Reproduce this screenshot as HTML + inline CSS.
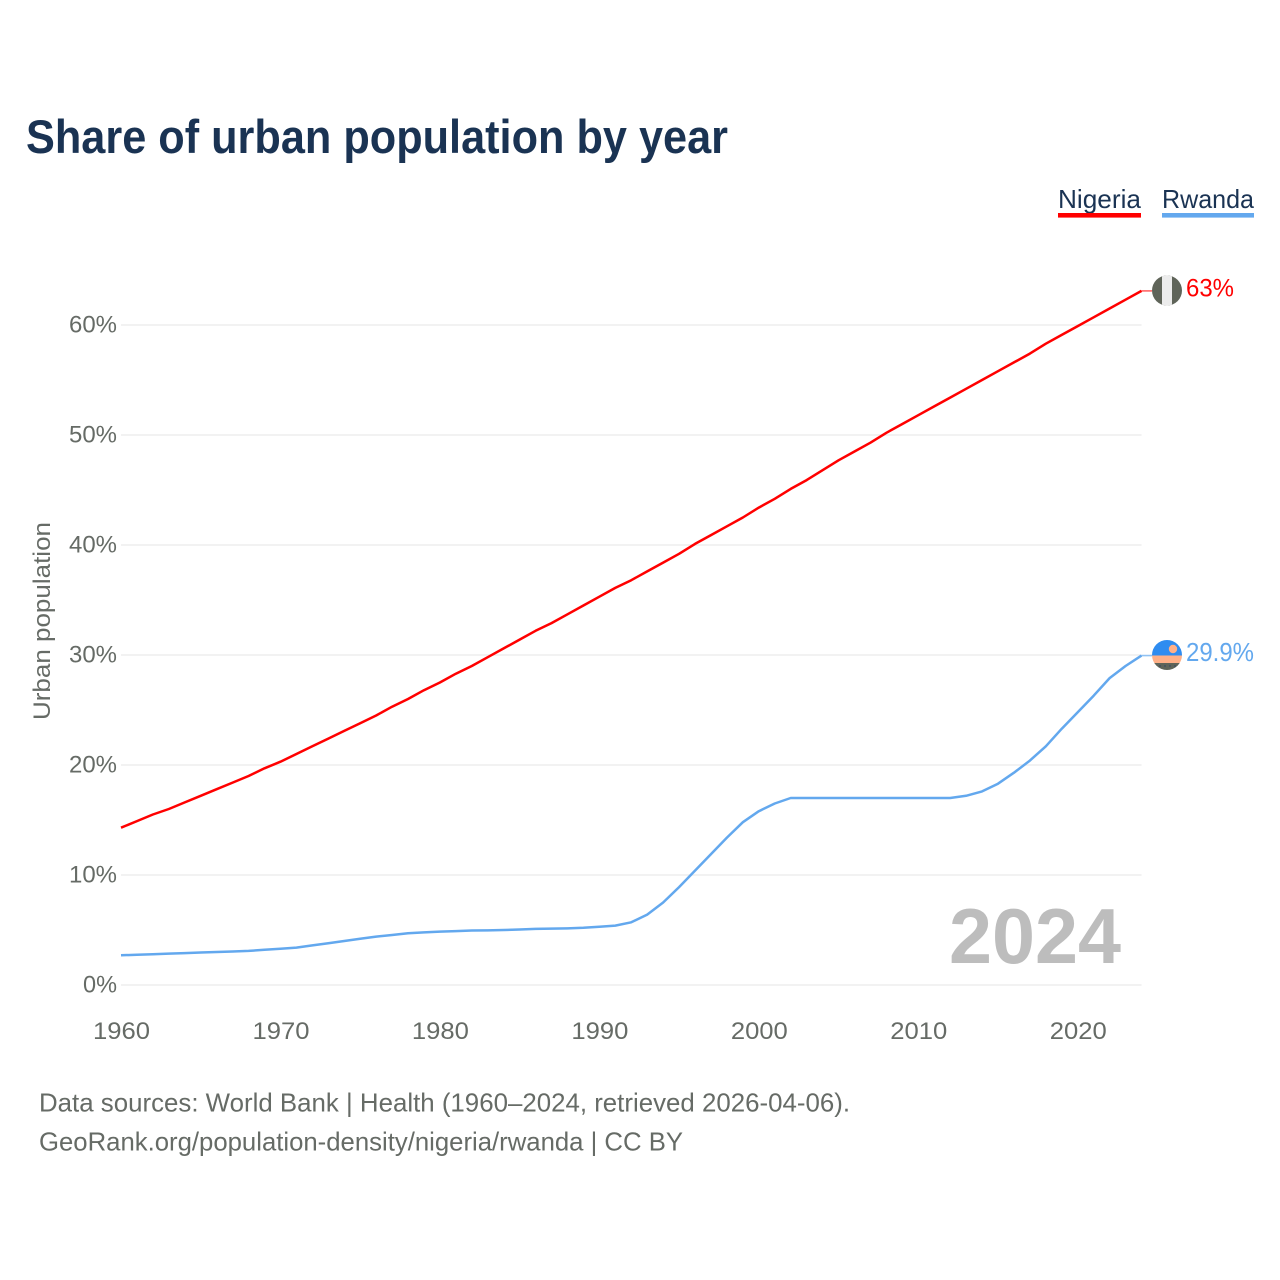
<!DOCTYPE html>
<html lang="en">
<head>
<meta charset="utf-8">
<title>Share of urban population by year</title>
<style>
html,body{margin:0;padding:0;background:#fff;}
svg{display:block;}
text{font-family:"Liberation Sans",sans-serif;}
</style>
</head>
<body>
<svg id="chart" xmlns="http://www.w3.org/2000/svg" width="1280" height="1280" viewBox="0 0 1280 1280">
  <defs>
    <clipPath id="flag-clip-ng"><circle cx="1167" cy="290.5" r="15"/></clipPath>
    <clipPath id="flag-clip-rw"><circle cx="1167" cy="655" r="15"/></clipPath>
  </defs>
  <rect width="1280" height="1280" fill="#ffffff"/>
  <text x="26" y="153" font-size="47" font-weight="700" fill="#1a3353" textLength="702" lengthAdjust="spacingAndGlyphs">Share of urban population by year</text>

  <g>
    <g>
      <text x="1058" y="208" font-size="26" fill="#1a3353" textLength="83" lengthAdjust="spacingAndGlyphs">Nigeria</text>
      <rect x="1058" y="213" width="83" height="4.6" fill="#ff0000"/>
    </g>
    <g>
      <text x="1162" y="208" font-size="26" fill="#1a3353" textLength="92" lengthAdjust="spacingAndGlyphs">Rwanda</text>
      <rect x="1162" y="213" width="92" height="4.6" fill="#63a8ee"/>
    </g>
  </g>

  <g id="grid"></g>
  <g id="y-ticks"></g>
  <g id="x-ticks"></g>
  <text transform="translate(50 720) rotate(-90)" font-size="24" fill="#666b66" textLength="198" lengthAdjust="spacingAndGlyphs">Urban population</text>

  <text x="949" y="963" font-size="78" font-weight="700" fill="#bdbdbd" textLength="172" lengthAdjust="spacingAndGlyphs">2024</text>

  <g id="series"></g>

  <g clip-path="url(#flag-clip-ng)">
    <rect x="1152" y="275" width="30" height="31" fill="#5f6459"/>
    <rect x="1162" y="275" width="10" height="31" fill="#ececec"/>
  </g>
  <g clip-path="url(#flag-clip-rw)">
    <rect x="1152" y="640" width="30" height="15.5" fill="#2f8cf0"/>
    <rect x="1152" y="655.5" width="30" height="7.5" fill="#ffb088"/>
    <rect x="1152" y="663" width="30" height="7" fill="#5f6459"/>
    <circle cx="1173" cy="649" r="4.2" fill="#ffb088"/>
    <circle cx="1160" cy="666" r="0.7" fill="#2b3f66"/>
    <circle cx="1165" cy="666" r="0.7" fill="#2b3f66"/>
    <circle cx="1170" cy="666" r="0.7" fill="#2b3f66"/>
    <circle cx="1175" cy="666" r="0.7" fill="#2b3f66"/>
  </g>
  <text id="end-label-nigeria" x="1186" y="296.5" font-size="25" fill="#ff0000" textLength="48" lengthAdjust="spacingAndGlyphs"></text>
  <text id="end-label-rwanda" x="1186" y="661" font-size="26" fill="#63a8ee" textLength="68" lengthAdjust="spacingAndGlyphs"></text>

  <text x="39" y="1111.5" font-size="26" fill="#666b66" textLength="811" lengthAdjust="spacingAndGlyphs">Data sources: World Bank | Health (1960–2024, retrieved 2026-04-06).</text>
  <text x="39" y="1150.5" font-size="26" fill="#666b66" textLength="644" lengthAdjust="spacingAndGlyphs">GeoRank.org/population-density/nigeria/rwanda | CC BY</text>
</svg>
<script>
var firstYear = 1960;
var xTickYears = [1960, 1970, 1980, 1990, 2000, 2010, 2020];
var yTickValues = [0, 10, 20, 30, 40, 50, 60];
var nigeriaValues = [14.3,14.9,15.5,16.0,16.6,17.2,17.8,18.4,19.0,19.7,20.3,21.0,21.7,22.4,23.1,23.8,24.5,25.3,26.0,26.8,27.5,28.3,29.0,29.8,30.6,31.4,32.2,32.9,33.7,34.5,35.3,36.1,36.8,37.6,38.4,39.2,40.1,40.9,41.7,42.5,43.4,44.2,45.1,45.9,46.8,47.7,48.5,49.3,50.2,51.0,51.8,52.6,53.4,54.2,55.0,55.8,56.6,57.4,58.3,59.1,59.9,60.7,61.5,62.3,63.1];
var rwandaValues = [2.7,2.75,2.8,2.85,2.9,2.95,3.0,3.05,3.1,3.2,3.3,3.4,3.6,3.8,4.0,4.2,4.4,4.55,4.7,4.78,4.85,4.9,4.95,4.97,5.0,5.05,5.1,5.12,5.15,5.2,5.3,5.4,5.7,6.4,7.5,8.9,10.4,11.9,13.4,14.8,15.8,16.5,17.0,17.0,17.0,17.0,17.0,17.0,17.0,17.0,17.0,17.0,17.0,17.2,17.6,18.3,19.3,20.4,21.7,23.3,24.8,26.3,27.9,29.0,29.95];
var nigeriaEndLabel = "63%";
var rwandaEndLabel = "29.9%";

var SVG_NS = "http://www.w3.org/2000/svg";
function xScale(year) { return 121 + (year - 1960) * (1141.5 - 121) / 64; }
function yScale(value) { return 985 - value * 11; }
function yearOf(index) { return firstYear + index; }

var gridGroup = document.getElementById("grid");
var yTickGroup = document.getElementById("y-ticks");
var xTickGroup = document.getElementById("x-ticks");
var seriesGroup = document.getElementById("series");

yTickValues.forEach(function (value) {
  var line = document.createElementNS(SVG_NS, "line");
  
  
  line.setAttribute("x1", xScale(1960));
  line.setAttribute("x2", xScale(2024));
  line.setAttribute("y1", yScale(value));
  line.setAttribute("y2", yScale(value));
  line.setAttribute("stroke", "#eeeeee");
  line.setAttribute("stroke-width", "1.4");
  gridGroup.appendChild(line);

  var label = document.createElementNS(SVG_NS, "text");
  
  
  label.setAttribute("x", 117);
  label.setAttribute("y", yScale(value) + 7.5);
  label.setAttribute("text-anchor", "end");
  label.setAttribute("font-size", "24");
  label.setAttribute("fill", "#666b66");
  label.setAttribute("textLength", value === 0 ? "34" : "48");
  label.setAttribute("lengthAdjust", "spacingAndGlyphs");
  label.textContent = value + "%";
  yTickGroup.appendChild(label);
});

xTickYears.forEach(function (year) {
  var label = document.createElementNS(SVG_NS, "text");
  
  
  label.setAttribute("x", xScale(year) + 0.5);
  label.setAttribute("y", 1039);
  label.setAttribute("text-anchor", "middle");
  label.setAttribute("font-size", "24");
  label.setAttribute("fill", "#666b66");
  label.setAttribute("textLength", "57");
  label.setAttribute("lengthAdjust", "spacingAndGlyphs");
  label.textContent = year;
  xTickGroup.appendChild(label);
});

function linePath(values) {
  return values.map(function (value, index) {
    return (index === 0 ? "M" : "L") + xScale(yearOf(index)).toFixed(2) + " " + yScale(value).toFixed(2);
  }).join(" ");
}

var nigeriaLine = document.createElementNS(SVG_NS, "path");


nigeriaLine.setAttribute("d", linePath(nigeriaValues));
nigeriaLine.setAttribute("fill", "none");
nigeriaLine.setAttribute("stroke", "#ff0000");
nigeriaLine.setAttribute("stroke-width", "2.5");
nigeriaLine.setAttribute("stroke-linejoin", "round");
seriesGroup.appendChild(nigeriaLine);

var rwandaLine = document.createElementNS(SVG_NS, "path");


rwandaLine.setAttribute("d", linePath(rwandaValues));
rwandaLine.setAttribute("fill", "none");
rwandaLine.setAttribute("stroke", "#63a8ee");
rwandaLine.setAttribute("stroke-width", "2.5");
rwandaLine.setAttribute("stroke-linejoin", "round");
seriesGroup.appendChild(rwandaLine);

var nigeriaLeader = document.createElementNS(SVG_NS, "line");


nigeriaLeader.setAttribute("x1", xScale(2024));
nigeriaLeader.setAttribute("x2", 1152);
nigeriaLeader.setAttribute("y1", yScale(nigeriaValues[nigeriaValues.length - 1]));
nigeriaLeader.setAttribute("y2", yScale(nigeriaValues[nigeriaValues.length - 1]));
nigeriaLeader.setAttribute("stroke", "#ff0000");
nigeriaLeader.setAttribute("stroke-opacity", "0.6");
nigeriaLeader.setAttribute("stroke-width", "1.6");
seriesGroup.appendChild(nigeriaLeader);

var rwandaLeader = document.createElementNS(SVG_NS, "line");


rwandaLeader.setAttribute("x1", xScale(2024));
rwandaLeader.setAttribute("x2", 1152);
rwandaLeader.setAttribute("y1", yScale(rwandaValues[rwandaValues.length - 1]));
rwandaLeader.setAttribute("y2", yScale(rwandaValues[rwandaValues.length - 1]));
rwandaLeader.setAttribute("stroke", "#63a8ee");
rwandaLeader.setAttribute("stroke-opacity", "0.7");
rwandaLeader.setAttribute("stroke-width", "1.6");
seriesGroup.appendChild(rwandaLeader);

document.getElementById("end-label-nigeria").textContent = nigeriaEndLabel;
document.getElementById("end-label-rwanda").textContent = rwandaEndLabel;
</script>
</body>
</html>
